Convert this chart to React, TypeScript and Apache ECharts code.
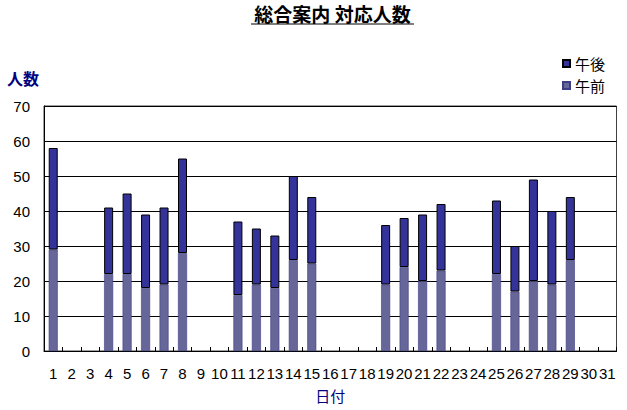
import { useEffect, useRef } from 'react';
import * as echarts from 'echarts';

const days = [
  '1', '2', '3', '4', '5', '6', '7', '8', '9', '10',
  '11', '12', '13', '14', '15', '16', '17', '18', '19', '20',
  '21', '22', '23', '24', '25', '26', '27', '28', '29', '30', '31',
];

// 午前 (lower part of each bar)
const morning = [
  29, null, null, 22, 22, 18, 19, 28, null, null,
  16, 19, 18, 26, 25, null, null, null, 19, 24,
  20, 23, null, null, 22, 17, 20, 19, 26, null, null,
];

// 午後 (stacked on top)
const afternoon = [
  29, null, null, 19, 23, 21, 22, 27, null, null,
  21, 16, 15, 24, 19, null, null, null, 17, 14,
  19, 19, null, null, 21, 13, 29, 21, 18, null, null,
];

const yTicks = [0, 10, 20, 30, 40, 50, 60, 70];

const FONT = "'Noto Sans CJK JP', 'Noto Sans', sans-serif";
const NUM_FONT = "'Liberation Sans Narrow', 'Liberation Sans', sans-serif";

export default function App() {
  const chartRef = useRef<HTMLDivElement>(null);

  useEffect(() => {
    if (!chartRef.current) return;
    const chart = echarts.init(chartRef.current, undefined, { renderer: 'svg' });

    const option: echarts.EChartsOption = {
      animation: false,
      backgroundColor: '#ffffff',
      grid: {
        left: 44,
        right: 10.5,
        top: 106,
        bottom: 59,
        show: true,
        borderColor: '#404040',
        borderWidth: 1,
      },
      legend: {
        data: ['午後', '午前'],
        orient: 'vertical',
        left: 557,
        top: 51,
        icon: 'rect',
        itemWidth: 7,
        itemHeight: 7,
        itemGap: 7,
        textStyle: { fontFamily: FONT, fontSize: 15, color: '#000' },
      },
      graphic: [
        {
          type: 'text',
          x: 332.5,
          y: 4,
          style: {
            text: '総合案内 対応人数',
            font: `bold 19px ${FONT}`,
            fill: '#000',
            textAlign: 'center',
          },
        },
        {
          type: 'line',
          shape: { x1: 251, y1: 24, x2: 414, y2: 24 },
          style: { stroke: '#000', lineWidth: 1.2 },
        },
        {
          type: 'text',
          left: 7,
          top: 70,
          style: {
            text: '人数',
            font: `bold 16px ${FONT}`,
            fill: '#000080',
          },
        },
      ],
      xAxis: {
        type: 'category',
        data: days,
        name: '日付',
        nameLocation: 'middle',
        nameGap: 37,
        nameTextStyle: { fontFamily: FONT, fontSize: 15, color: '#000080' },
        axisLine: { lineStyle: { color: '#000', width: 1 } },
        axisTick: { show: true, inside: true, length: 4, lineStyle: { color: '#000' } },
        axisLabel: {
          interval: 0,
          margin: 15,
          fontFamily: NUM_FONT,
          fontSize: 15,
          color: '#000',
        },
        splitLine: { show: false },
      },
      yAxis: {
        type: 'value',
        min: yTicks[0],
        max: yTicks[yTicks.length - 1],
        interval: 10,
        axisLine: { show: true, lineStyle: { color: '#000', width: 1 } },
        axisTick: { show: false },
        axisLabel: {
          margin: 14,
          fontFamily: NUM_FONT,
          fontSize: 15,
          color: '#000',
        },
        splitLine: { lineStyle: { color: '#000', width: 1 } },
      },
      series: [
        {
          name: '午前',
          type: 'bar',
          stack: 'total',
          data: morning,
          barWidth: 9,
          itemStyle: { color: '#666699', borderColor: '#3d3d85', borderWidth: 0.6 },
        },
        {
          name: '午後',
          type: 'bar',
          stack: 'total',
          data: afternoon,
          barWidth: 9,
          itemStyle: { color: '#333399', borderColor: '#000', borderWidth: 1 },
        },
      ],
    };

    chart.setOption(option);

    return () => {
      chart.dispose();
    };
  }, []);

  return (
    <div
      ref={chartRef}
      style={{ position: 'absolute', left: 0, top: 0, width: 627, height: 410 }}
    />
  );
}
